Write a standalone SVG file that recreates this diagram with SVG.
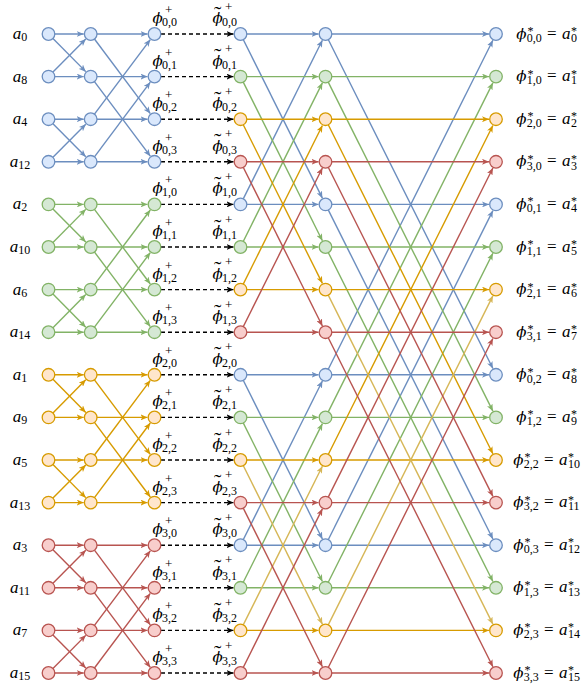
<svg xmlns="http://www.w3.org/2000/svg" width="582" height="692" viewBox="0 0 582 692">
<style>
.t{font-family:"Liberation Serif","Times New Roman","DejaVu Serif",serif;font-size:17px;fill:#000}
.i{font-style:italic}
.f{font-family:"DejaVu Serif",serif;font-style:italic;font-size:15px}
.w{font-size:22px;font-style:normal}
.s{font-size:12px;font-style:normal}
.p{font-size:13px;font-style:normal}
circle{stroke-width:1.3}
.cb{fill:#dae8fc;stroke:#6c8ebf}
.cg{fill:#d5e8d4;stroke:#82b366}
.co{fill:#ffe6cc;stroke:#d79b00}
.cr{fill:#f8cecc;stroke:#b85450}
#edges line{stroke-width:1.4;fill:none}
.eb{stroke:#6c8ebf;marker-end:url(#ab)}
.eg{stroke:#82b366;marker-end:url(#ag)}
.eo{stroke:#d79b00;marker-end:url(#ao)}
.ey{stroke:#d6b656;marker-end:url(#ay)}
.er{stroke:#b85450;marker-end:url(#ar)}
.ed{stroke:#000;stroke-dasharray:4 3;marker-end:url(#ak)}
</style>
<defs>
<marker id="ab" viewBox="0 0 7 6" refX="7" refY="3" markerWidth="7" markerHeight="6" markerUnits="userSpaceOnUse" orient="auto"><path d="M0,0 L7,3 L0,6 L1.8,3 Z" fill="#6c8ebf"/></marker>
<marker id="ag" viewBox="0 0 7 6" refX="7" refY="3" markerWidth="7" markerHeight="6" markerUnits="userSpaceOnUse" orient="auto"><path d="M0,0 L7,3 L0,6 L1.8,3 Z" fill="#82b366"/></marker>
<marker id="ao" viewBox="0 0 7 6" refX="7" refY="3" markerWidth="7" markerHeight="6" markerUnits="userSpaceOnUse" orient="auto"><path d="M0,0 L7,3 L0,6 L1.8,3 Z" fill="#d79b00"/></marker>
<marker id="ay" viewBox="0 0 7 6" refX="7" refY="3" markerWidth="7" markerHeight="6" markerUnits="userSpaceOnUse" orient="auto"><path d="M0,0 L7,3 L0,6 L1.8,3 Z" fill="#d6b656"/></marker>
<marker id="ar" viewBox="0 0 7 6" refX="7" refY="3" markerWidth="7" markerHeight="6" markerUnits="userSpaceOnUse" orient="auto"><path d="M0,0 L7,3 L0,6 L1.8,3 Z" fill="#b85450"/></marker>
<marker id="ak" viewBox="0 0 7 6" refX="7" refY="3" markerWidth="7" markerHeight="6" markerUnits="userSpaceOnUse" orient="auto"><path d="M0,0 L7,3 L0,6 L1.8,3 Z" fill="#000"/></marker>
</defs>
<rect width="582" height="692" fill="#fff"/>
<g id="edges">
<g class="eb">
<line x1="48.5" y1="34" x2="83.7" y2="34"/><line x1="48.5" y1="34" x2="85.77" y2="71.63"/>
<line x1="48.5" y1="76.6" x2="83.7" y2="76.6"/><line x1="48.5" y1="76.6" x2="85.77" y2="38.97"/>
<line x1="48.5" y1="119.2" x2="83.7" y2="119.2"/><line x1="48.5" y1="119.2" x2="85.77" y2="156.83"/>
<line x1="48.5" y1="161.8" x2="83.7" y2="161.8"/><line x1="48.5" y1="161.8" x2="85.77" y2="124.17"/>
<line x1="90.7" y1="34" x2="147.5" y2="34"/><line x1="90.7" y1="34" x2="150.3" y2="113.6"/>
<line x1="90.7" y1="76.6" x2="147.5" y2="76.6"/><line x1="90.7" y1="76.6" x2="150.3" y2="156.2"/>
<line x1="90.7" y1="119.2" x2="147.5" y2="119.2"/><line x1="90.7" y1="119.2" x2="150.3" y2="39.6"/>
<line x1="90.7" y1="161.8" x2="147.5" y2="161.8"/><line x1="90.7" y1="161.8" x2="150.3" y2="82.2"/>
</g>
<g class="eg">
<line x1="48.5" y1="204.4" x2="83.7" y2="204.4"/><line x1="48.5" y1="204.4" x2="85.77" y2="242.03"/>
<line x1="48.5" y1="247" x2="83.7" y2="247"/><line x1="48.5" y1="247" x2="85.77" y2="209.37"/>
<line x1="48.5" y1="289.6" x2="83.7" y2="289.6"/><line x1="48.5" y1="289.6" x2="85.77" y2="327.23"/>
<line x1="48.5" y1="332.2" x2="83.7" y2="332.2"/><line x1="48.5" y1="332.2" x2="85.77" y2="294.57"/>
<line x1="90.7" y1="204.4" x2="147.5" y2="204.4"/><line x1="90.7" y1="204.4" x2="150.3" y2="284"/>
<line x1="90.7" y1="247" x2="147.5" y2="247"/><line x1="90.7" y1="247" x2="150.3" y2="326.6"/>
<line x1="90.7" y1="289.6" x2="147.5" y2="289.6"/><line x1="90.7" y1="289.6" x2="150.3" y2="210"/>
<line x1="90.7" y1="332.2" x2="147.5" y2="332.2"/><line x1="90.7" y1="332.2" x2="150.3" y2="252.6"/>
</g>
<g class="eo">
<line x1="48.5" y1="374.8" x2="83.7" y2="374.8"/><line x1="48.5" y1="374.8" x2="85.77" y2="412.43"/>
<line x1="48.5" y1="417.4" x2="83.7" y2="417.4"/><line x1="48.5" y1="417.4" x2="85.77" y2="379.77"/>
<line x1="48.5" y1="460" x2="83.7" y2="460"/><line x1="48.5" y1="460" x2="85.77" y2="497.63"/>
<line x1="48.5" y1="502.6" x2="83.7" y2="502.6"/><line x1="48.5" y1="502.6" x2="85.77" y2="464.97"/>
<line x1="90.7" y1="374.8" x2="147.5" y2="374.8"/><line x1="90.7" y1="374.8" x2="150.3" y2="454.4"/>
<line x1="90.7" y1="417.4" x2="147.5" y2="417.4"/><line x1="90.7" y1="417.4" x2="150.3" y2="497"/>
<line x1="90.7" y1="460" x2="147.5" y2="460"/><line x1="90.7" y1="460" x2="150.3" y2="380.4"/>
<line x1="90.7" y1="502.6" x2="147.5" y2="502.6"/><line x1="90.7" y1="502.6" x2="150.3" y2="423"/>
</g>
<g class="er">
<line x1="48.5" y1="545.2" x2="83.7" y2="545.2"/><line x1="48.5" y1="545.2" x2="85.77" y2="582.83"/>
<line x1="48.5" y1="587.8" x2="83.7" y2="587.8"/><line x1="48.5" y1="587.8" x2="85.77" y2="550.17"/>
<line x1="48.5" y1="630.4" x2="83.7" y2="630.4"/><line x1="48.5" y1="630.4" x2="85.77" y2="668.03"/>
<line x1="48.5" y1="673" x2="83.7" y2="673"/><line x1="48.5" y1="673" x2="85.77" y2="635.37"/>
<line x1="90.7" y1="545.2" x2="147.5" y2="545.2"/><line x1="90.7" y1="545.2" x2="150.3" y2="624.8"/>
<line x1="90.7" y1="587.8" x2="147.5" y2="587.8"/><line x1="90.7" y1="587.8" x2="150.3" y2="667.4"/>
<line x1="90.7" y1="630.4" x2="147.5" y2="630.4"/><line x1="90.7" y1="630.4" x2="150.3" y2="550.8"/>
<line x1="90.7" y1="673" x2="147.5" y2="673"/><line x1="90.7" y1="673" x2="150.3" y2="593.4"/>
</g>
<g class="ed">
<line x1="161" y1="34" x2="233.5" y2="34"/><line x1="161" y1="76.6" x2="233.5" y2="76.6"/>
<line x1="161" y1="119.2" x2="233.5" y2="119.2"/><line x1="161" y1="161.8" x2="233.5" y2="161.8"/>
<line x1="161" y1="204.4" x2="233.5" y2="204.4"/><line x1="161" y1="247" x2="233.5" y2="247"/>
<line x1="161" y1="289.6" x2="233.5" y2="289.6"/><line x1="161" y1="332.2" x2="233.5" y2="332.2"/>
<line x1="161" y1="374.8" x2="233.5" y2="374.8"/><line x1="161" y1="417.4" x2="233.5" y2="417.4"/>
<line x1="161" y1="460" x2="233.5" y2="460"/><line x1="161" y1="502.6" x2="233.5" y2="502.6"/>
<line x1="161" y1="545.2" x2="233.5" y2="545.2"/><line x1="161" y1="587.8" x2="233.5" y2="587.8"/>
<line x1="161" y1="630.4" x2="233.5" y2="630.4"/><line x1="161" y1="673" x2="233.5" y2="673"/>
</g>
<g class="eb">
<line x1="240.5" y1="34" x2="318.5" y2="34"/><line x1="240.5" y1="34" x2="322.38" y2="198.14"/>
<line x1="240.5" y1="204.4" x2="318.5" y2="204.4"/><line x1="240.5" y1="204.4" x2="322.38" y2="40.26"/>
<line x1="240.5" y1="374.8" x2="318.5" y2="374.8"/><line x1="240.5" y1="374.8" x2="322.38" y2="538.94"/>
<line x1="240.5" y1="545.2" x2="318.5" y2="545.2"/><line x1="240.5" y1="545.2" x2="322.38" y2="381.06"/>
<line x1="325.5" y1="34" x2="489" y2="34"/><line x1="325.5" y1="34" x2="492.87" y2="368.54"/>
<line x1="325.5" y1="204.4" x2="489" y2="204.4"/><line x1="325.5" y1="204.4" x2="492.87" y2="538.94"/>
<line x1="325.5" y1="374.8" x2="489" y2="374.8"/><line x1="325.5" y1="374.8" x2="492.87" y2="40.26"/>
<line x1="325.5" y1="545.2" x2="489" y2="545.2"/><line x1="325.5" y1="545.2" x2="492.87" y2="210.66"/>
</g>
<g class="eg">
<line x1="240.5" y1="76.6" x2="318.5" y2="76.6"/><line x1="240.5" y1="76.6" x2="322.38" y2="240.74"/>
<line x1="240.5" y1="247" x2="318.5" y2="247"/><line x1="240.5" y1="247" x2="322.38" y2="82.86"/>
<line x1="240.5" y1="417.4" x2="318.5" y2="417.4"/><line x1="240.5" y1="417.4" x2="322.38" y2="581.54"/>
<line x1="240.5" y1="587.8" x2="318.5" y2="587.8"/><line x1="240.5" y1="587.8" x2="322.38" y2="423.66"/>
<line x1="325.5" y1="76.6" x2="489" y2="76.6"/><line x1="325.5" y1="76.6" x2="492.87" y2="411.14"/>
<line x1="325.5" y1="247" x2="489" y2="247"/><line x1="325.5" y1="247" x2="492.87" y2="581.54"/>
<line x1="325.5" y1="417.4" x2="489" y2="417.4"/><line x1="325.5" y1="417.4" x2="492.87" y2="82.86"/>
<line x1="325.5" y1="587.8" x2="489" y2="587.8"/><line x1="325.5" y1="587.8" x2="492.87" y2="253.26"/>
</g>
<g class="eo">
<line x1="240.5" y1="119.2" x2="318.5" y2="119.2"/><line x1="240.5" y1="119.2" x2="322.38" y2="283.34"/>
<line x1="240.5" y1="289.6" x2="318.5" y2="289.6"/><line x1="240.5" y1="289.6" x2="322.38" y2="125.46"/>
<line x1="240.5" y1="460" x2="318.5" y2="460"/>
<line x1="240.5" y1="630.4" x2="318.5" y2="630.4"/>
<line x1="325.5" y1="119.2" x2="489" y2="119.2"/><line x1="325.5" y1="119.2" x2="492.87" y2="453.74"/>
<line x1="325.5" y1="289.6" x2="489" y2="289.6"/>
<line x1="325.5" y1="460" x2="489" y2="460"/><line x1="325.5" y1="460" x2="492.87" y2="125.46"/>
<line x1="325.5" y1="630.4" x2="489" y2="630.4"/>
</g>
<g class="ey">
<line x1="240.5" y1="460" x2="322.38" y2="624.14"/>
<line x1="240.5" y1="630.4" x2="322.38" y2="466.26"/>
<line x1="325.5" y1="289.6" x2="492.87" y2="624.14"/>
<line x1="325.5" y1="630.4" x2="492.87" y2="295.86"/>
</g>
<g class="er">
<line x1="240.5" y1="161.8" x2="318.5" y2="161.8"/><line x1="240.5" y1="161.8" x2="322.38" y2="325.94"/>
<line x1="240.5" y1="332.2" x2="318.5" y2="332.2"/><line x1="240.5" y1="332.2" x2="322.38" y2="168.06"/>
<line x1="240.5" y1="502.6" x2="318.5" y2="502.6"/><line x1="240.5" y1="502.6" x2="322.38" y2="666.74"/>
<line x1="240.5" y1="673" x2="318.5" y2="673"/><line x1="240.5" y1="673" x2="322.38" y2="508.86"/>
<line x1="325.5" y1="161.8" x2="489" y2="161.8"/><line x1="325.5" y1="161.8" x2="492.87" y2="496.34"/>
<line x1="325.5" y1="332.2" x2="489" y2="332.2"/><line x1="325.5" y1="332.2" x2="492.87" y2="666.74"/>
<line x1="325.5" y1="502.6" x2="489" y2="502.6"/><line x1="325.5" y1="502.6" x2="492.87" y2="168.06"/>
<line x1="325.5" y1="673" x2="489" y2="673"/><line x1="325.5" y1="673" x2="492.87" y2="338.46"/>
</g>
</g>
<g id="nodes">
<!-- column 1: inputs -->
<g id="n1_0" transform="translate(48.5,34)"><circle r="6.3" class="cb"/><text class="t" x="-28.5" y="5" text-anchor="middle"><tspan class="i">a</tspan><tspan class="s" dy="2">0</tspan></text></g>
<g id="n1_1" transform="translate(48.5,76.6)"><circle r="6.3" class="cb"/><text class="t" x="-28.5" y="5" text-anchor="middle"><tspan class="i">a</tspan><tspan class="s" dy="2">8</tspan></text></g>
<g id="n1_2" transform="translate(48.5,119.2)"><circle r="6.3" class="cb"/><text class="t" x="-28.5" y="5" text-anchor="middle"><tspan class="i">a</tspan><tspan class="s" dy="2">4</tspan></text></g>
<g id="n1_3" transform="translate(48.5,161.8)"><circle r="6.3" class="cb"/><text class="t" x="-28.5" y="5" text-anchor="middle"><tspan class="i">a</tspan><tspan class="s" dy="2">12</tspan></text></g>
<g id="n1_4" transform="translate(48.5,204.4)"><circle r="6.3" class="cg"/><text class="t" x="-28.5" y="5" text-anchor="middle"><tspan class="i">a</tspan><tspan class="s" dy="2">2</tspan></text></g>
<g id="n1_5" transform="translate(48.5,247)"><circle r="6.3" class="cg"/><text class="t" x="-28.5" y="5" text-anchor="middle"><tspan class="i">a</tspan><tspan class="s" dy="2">10</tspan></text></g>
<g id="n1_6" transform="translate(48.5,289.6)"><circle r="6.3" class="cg"/><text class="t" x="-28.5" y="5" text-anchor="middle"><tspan class="i">a</tspan><tspan class="s" dy="2">6</tspan></text></g>
<g id="n1_7" transform="translate(48.5,332.2)"><circle r="6.3" class="cg"/><text class="t" x="-28.5" y="5" text-anchor="middle"><tspan class="i">a</tspan><tspan class="s" dy="2">14</tspan></text></g>
<g id="n1_8" transform="translate(48.5,374.8)"><circle r="6.3" class="co"/><text class="t" x="-28.5" y="5" text-anchor="middle"><tspan class="i">a</tspan><tspan class="s" dy="2">1</tspan></text></g>
<g id="n1_9" transform="translate(48.5,417.4)"><circle r="6.3" class="co"/><text class="t" x="-28.5" y="5" text-anchor="middle"><tspan class="i">a</tspan><tspan class="s" dy="2">9</tspan></text></g>
<g id="n1_10" transform="translate(48.5,460)"><circle r="6.3" class="co"/><text class="t" x="-28.5" y="5" text-anchor="middle"><tspan class="i">a</tspan><tspan class="s" dy="2">5</tspan></text></g>
<g id="n1_11" transform="translate(48.5,502.6)"><circle r="6.3" class="co"/><text class="t" x="-28.5" y="5" text-anchor="middle"><tspan class="i">a</tspan><tspan class="s" dy="2">13</tspan></text></g>
<g id="n1_12" transform="translate(48.5,545.2)"><circle r="6.3" class="cr"/><text class="t" x="-28.5" y="5" text-anchor="middle"><tspan class="i">a</tspan><tspan class="s" dy="2">3</tspan></text></g>
<g id="n1_13" transform="translate(48.5,587.8)"><circle r="6.3" class="cr"/><text class="t" x="-28.5" y="5" text-anchor="middle"><tspan class="i">a</tspan><tspan class="s" dy="2">11</tspan></text></g>
<g id="n1_14" transform="translate(48.5,630.4)"><circle r="6.3" class="cr"/><text class="t" x="-28.5" y="5" text-anchor="middle"><tspan class="i">a</tspan><tspan class="s" dy="2">7</tspan></text></g>
<g id="n1_15" transform="translate(48.5,673)"><circle r="6.3" class="cr"/><text class="t" x="-28.5" y="5" text-anchor="middle"><tspan class="i">a</tspan><tspan class="s" dy="2">15</tspan></text></g>
<!-- column 2 -->
<g id="n2_0" transform="translate(90.7,34)"><circle r="6.3" class="cb"/></g>
<g id="n2_1" transform="translate(90.7,76.6)"><circle r="6.3" class="cb"/></g>
<g id="n2_2" transform="translate(90.7,119.2)"><circle r="6.3" class="cb"/></g>
<g id="n2_3" transform="translate(90.7,161.8)"><circle r="6.3" class="cb"/></g>
<g id="n2_4" transform="translate(90.7,204.4)"><circle r="6.3" class="cg"/></g>
<g id="n2_5" transform="translate(90.7,247)"><circle r="6.3" class="cg"/></g>
<g id="n2_6" transform="translate(90.7,289.6)"><circle r="6.3" class="cg"/></g>
<g id="n2_7" transform="translate(90.7,332.2)"><circle r="6.3" class="cg"/></g>
<g id="n2_8" transform="translate(90.7,374.8)"><circle r="6.3" class="co"/></g>
<g id="n2_9" transform="translate(90.7,417.4)"><circle r="6.3" class="co"/></g>
<g id="n2_10" transform="translate(90.7,460)"><circle r="6.3" class="co"/></g>
<g id="n2_11" transform="translate(90.7,502.6)"><circle r="6.3" class="co"/></g>
<g id="n2_12" transform="translate(90.7,545.2)"><circle r="6.3" class="cr"/></g>
<g id="n2_13" transform="translate(90.7,587.8)"><circle r="6.3" class="cr"/></g>
<g id="n2_14" transform="translate(90.7,630.4)"><circle r="6.3" class="cr"/></g>
<g id="n2_15" transform="translate(90.7,673)"><circle r="6.3" class="cr"/></g>
<!-- column 3 -->
<g id="n3_0" transform="translate(154.5,34)"><circle r="6.3" class="cb"/><text class="t"><tspan class="f" x="-2" y="-11">ϕ</tspan><tspan class="s" x="7.5" y="-8">0,0</tspan><tspan class="p" x="10.5" y="-20">+</tspan></text></g>
<g id="n3_1" transform="translate(154.5,76.6)"><circle r="6.3" class="cb"/><text class="t"><tspan class="f" x="-2" y="-11">ϕ</tspan><tspan class="s" x="7.5" y="-8">0,1</tspan><tspan class="p" x="10.5" y="-20">+</tspan></text></g>
<g id="n3_2" transform="translate(154.5,119.2)"><circle r="6.3" class="cb"/><text class="t"><tspan class="f" x="-2" y="-11">ϕ</tspan><tspan class="s" x="7.5" y="-8">0,2</tspan><tspan class="p" x="10.5" y="-20">+</tspan></text></g>
<g id="n3_3" transform="translate(154.5,161.8)"><circle r="6.3" class="cb"/><text class="t"><tspan class="f" x="-2" y="-11">ϕ</tspan><tspan class="s" x="7.5" y="-8">0,3</tspan><tspan class="p" x="10.5" y="-20">+</tspan></text></g>
<g id="n3_4" transform="translate(154.5,204.4)"><circle r="6.3" class="cg"/><text class="t"><tspan class="f" x="-2" y="-11">ϕ</tspan><tspan class="s" x="7.5" y="-8">1,0</tspan><tspan class="p" x="10.5" y="-20">+</tspan></text></g>
<g id="n3_5" transform="translate(154.5,247)"><circle r="6.3" class="cg"/><text class="t"><tspan class="f" x="-2" y="-11">ϕ</tspan><tspan class="s" x="7.5" y="-8">1,1</tspan><tspan class="p" x="10.5" y="-20">+</tspan></text></g>
<g id="n3_6" transform="translate(154.5,289.6)"><circle r="6.3" class="cg"/><text class="t"><tspan class="f" x="-2" y="-11">ϕ</tspan><tspan class="s" x="7.5" y="-8">1,2</tspan><tspan class="p" x="10.5" y="-20">+</tspan></text></g>
<g id="n3_7" transform="translate(154.5,332.2)"><circle r="6.3" class="cg"/><text class="t"><tspan class="f" x="-2" y="-11">ϕ</tspan><tspan class="s" x="7.5" y="-8">1,3</tspan><tspan class="p" x="10.5" y="-20">+</tspan></text></g>
<g id="n3_8" transform="translate(154.5,374.8)"><circle r="6.3" class="co"/><text class="t"><tspan class="f" x="-2" y="-11">ϕ</tspan><tspan class="s" x="7.5" y="-8">2,0</tspan><tspan class="p" x="10.5" y="-20">+</tspan></text></g>
<g id="n3_9" transform="translate(154.5,417.4)"><circle r="6.3" class="co"/><text class="t"><tspan class="f" x="-2" y="-11">ϕ</tspan><tspan class="s" x="7.5" y="-8">2,1</tspan><tspan class="p" x="10.5" y="-20">+</tspan></text></g>
<g id="n3_10" transform="translate(154.5,460)"><circle r="6.3" class="co"/><text class="t"><tspan class="f" x="-2" y="-11">ϕ</tspan><tspan class="s" x="7.5" y="-8">2,2</tspan><tspan class="p" x="10.5" y="-20">+</tspan></text></g>
<g id="n3_11" transform="translate(154.5,502.6)"><circle r="6.3" class="co"/><text class="t"><tspan class="f" x="-2" y="-11">ϕ</tspan><tspan class="s" x="7.5" y="-8">2,3</tspan><tspan class="p" x="10.5" y="-20">+</tspan></text></g>
<g id="n3_12" transform="translate(154.5,545.2)"><circle r="6.3" class="cr"/><text class="t"><tspan class="f" x="-2" y="-11">ϕ</tspan><tspan class="s" x="7.5" y="-8">3,0</tspan><tspan class="p" x="10.5" y="-20">+</tspan></text></g>
<g id="n3_13" transform="translate(154.5,587.8)"><circle r="6.3" class="cr"/><text class="t"><tspan class="f" x="-2" y="-11">ϕ</tspan><tspan class="s" x="7.5" y="-8">3,1</tspan><tspan class="p" x="10.5" y="-20">+</tspan></text></g>
<g id="n3_14" transform="translate(154.5,630.4)"><circle r="6.3" class="cr"/><text class="t"><tspan class="f" x="-2" y="-11">ϕ</tspan><tspan class="s" x="7.5" y="-8">3,2</tspan><tspan class="p" x="10.5" y="-20">+</tspan></text></g>
<g id="n3_15" transform="translate(154.5,673)"><circle r="6.3" class="cr"/><text class="t"><tspan class="f" x="-2" y="-11">ϕ</tspan><tspan class="s" x="7.5" y="-8">3,3</tspan><tspan class="p" x="10.5" y="-20">+</tspan></text></g>
<!-- column 4 -->
<g id="n4_0" transform="translate(240.5,34)"><circle r="6.3" class="cb"/><text class="t"><tspan class="f" x="-28" y="-11">ϕ</tspan><tspan class="w" x="-26.5" y="-13.5">˜</tspan><tspan class="s" x="-18.5" y="-8">0,0</tspan><tspan class="p" x="-15.5" y="-23.5">+</tspan></text></g>
<g id="n4_1" transform="translate(240.5,76.6)"><circle r="6.3" class="cg"/><text class="t"><tspan class="f" x="-28" y="-11">ϕ</tspan><tspan class="w" x="-26.5" y="-13.5">˜</tspan><tspan class="s" x="-18.5" y="-8">0,1</tspan><tspan class="p" x="-15.5" y="-23.5">+</tspan></text></g>
<g id="n4_2" transform="translate(240.5,119.2)"><circle r="6.3" class="co"/><text class="t"><tspan class="f" x="-28" y="-11">ϕ</tspan><tspan class="w" x="-26.5" y="-13.5">˜</tspan><tspan class="s" x="-18.5" y="-8">0,2</tspan><tspan class="p" x="-15.5" y="-23.5">+</tspan></text></g>
<g id="n4_3" transform="translate(240.5,161.8)"><circle r="6.3" class="cr"/><text class="t"><tspan class="f" x="-28" y="-11">ϕ</tspan><tspan class="w" x="-26.5" y="-13.5">˜</tspan><tspan class="s" x="-18.5" y="-8">0,3</tspan><tspan class="p" x="-15.5" y="-23.5">+</tspan></text></g>
<g id="n4_4" transform="translate(240.5,204.4)"><circle r="6.3" class="cb"/><text class="t"><tspan class="f" x="-28" y="-11">ϕ</tspan><tspan class="w" x="-26.5" y="-13.5">˜</tspan><tspan class="s" x="-18.5" y="-8">1,0</tspan><tspan class="p" x="-15.5" y="-23.5">+</tspan></text></g>
<g id="n4_5" transform="translate(240.5,247)"><circle r="6.3" class="cg"/><text class="t"><tspan class="f" x="-28" y="-11">ϕ</tspan><tspan class="w" x="-26.5" y="-13.5">˜</tspan><tspan class="s" x="-18.5" y="-8">1,1</tspan><tspan class="p" x="-15.5" y="-23.5">+</tspan></text></g>
<g id="n4_6" transform="translate(240.5,289.6)"><circle r="6.3" class="co"/><text class="t"><tspan class="f" x="-28" y="-11">ϕ</tspan><tspan class="w" x="-26.5" y="-13.5">˜</tspan><tspan class="s" x="-18.5" y="-8">1,2</tspan><tspan class="p" x="-15.5" y="-23.5">+</tspan></text></g>
<g id="n4_7" transform="translate(240.5,332.2)"><circle r="6.3" class="cr"/><text class="t"><tspan class="f" x="-28" y="-11">ϕ</tspan><tspan class="w" x="-26.5" y="-13.5">˜</tspan><tspan class="s" x="-18.5" y="-8">1,3</tspan><tspan class="p" x="-15.5" y="-23.5">+</tspan></text></g>
<g id="n4_8" transform="translate(240.5,374.8)"><circle r="6.3" class="cb"/><text class="t"><tspan class="f" x="-28" y="-11">ϕ</tspan><tspan class="w" x="-26.5" y="-13.5">˜</tspan><tspan class="s" x="-18.5" y="-8">2,0</tspan><tspan class="p" x="-15.5" y="-23.5">+</tspan></text></g>
<g id="n4_9" transform="translate(240.5,417.4)"><circle r="6.3" class="cg"/><text class="t"><tspan class="f" x="-28" y="-11">ϕ</tspan><tspan class="w" x="-26.5" y="-13.5">˜</tspan><tspan class="s" x="-18.5" y="-8">2,1</tspan><tspan class="p" x="-15.5" y="-23.5">+</tspan></text></g>
<g id="n4_10" transform="translate(240.5,460)"><circle r="6.3" class="co"/><text class="t"><tspan class="f" x="-28" y="-11">ϕ</tspan><tspan class="w" x="-26.5" y="-13.5">˜</tspan><tspan class="s" x="-18.5" y="-8">2,2</tspan><tspan class="p" x="-15.5" y="-23.5">+</tspan></text></g>
<g id="n4_11" transform="translate(240.5,502.6)"><circle r="6.3" class="cr"/><text class="t"><tspan class="f" x="-28" y="-11">ϕ</tspan><tspan class="w" x="-26.5" y="-13.5">˜</tspan><tspan class="s" x="-18.5" y="-8">2,3</tspan><tspan class="p" x="-15.5" y="-23.5">+</tspan></text></g>
<g id="n4_12" transform="translate(240.5,545.2)"><circle r="6.3" class="cb"/><text class="t"><tspan class="f" x="-28" y="-11">ϕ</tspan><tspan class="w" x="-26.5" y="-13.5">˜</tspan><tspan class="s" x="-18.5" y="-8">3,0</tspan><tspan class="p" x="-15.5" y="-23.5">+</tspan></text></g>
<g id="n4_13" transform="translate(240.5,587.8)"><circle r="6.3" class="cg"/><text class="t"><tspan class="f" x="-28" y="-11">ϕ</tspan><tspan class="w" x="-26.5" y="-13.5">˜</tspan><tspan class="s" x="-18.5" y="-8">3,1</tspan><tspan class="p" x="-15.5" y="-23.5">+</tspan></text></g>
<g id="n4_14" transform="translate(240.5,630.4)"><circle r="6.3" class="co"/><text class="t"><tspan class="f" x="-28" y="-11">ϕ</tspan><tspan class="w" x="-26.5" y="-13.5">˜</tspan><tspan class="s" x="-18.5" y="-8">3,2</tspan><tspan class="p" x="-15.5" y="-23.5">+</tspan></text></g>
<g id="n4_15" transform="translate(240.5,673)"><circle r="6.3" class="cr"/><text class="t"><tspan class="f" x="-28" y="-11">ϕ</tspan><tspan class="w" x="-26.5" y="-13.5">˜</tspan><tspan class="s" x="-18.5" y="-8">3,3</tspan><tspan class="p" x="-15.5" y="-23.5">+</tspan></text></g>
<!-- column 5 -->
<g id="n5_0" transform="translate(325.5,34)"><circle r="6.3" class="cb"/></g>
<g id="n5_1" transform="translate(325.5,76.6)"><circle r="6.3" class="cg"/></g>
<g id="n5_2" transform="translate(325.5,119.2)"><circle r="6.3" class="co"/></g>
<g id="n5_3" transform="translate(325.5,161.8)"><circle r="6.3" class="cr"/></g>
<g id="n5_4" transform="translate(325.5,204.4)"><circle r="6.3" class="cb"/></g>
<g id="n5_5" transform="translate(325.5,247)"><circle r="6.3" class="cg"/></g>
<g id="n5_6" transform="translate(325.5,289.6)"><circle r="6.3" class="co"/></g>
<g id="n5_7" transform="translate(325.5,332.2)"><circle r="6.3" class="cr"/></g>
<g id="n5_8" transform="translate(325.5,374.8)"><circle r="6.3" class="cb"/></g>
<g id="n5_9" transform="translate(325.5,417.4)"><circle r="6.3" class="cg"/></g>
<g id="n5_10" transform="translate(325.5,460)"><circle r="6.3" class="co"/></g>
<g id="n5_11" transform="translate(325.5,502.6)"><circle r="6.3" class="cr"/></g>
<g id="n5_12" transform="translate(325.5,545.2)"><circle r="6.3" class="cb"/></g>
<g id="n5_13" transform="translate(325.5,587.8)"><circle r="6.3" class="cg"/></g>
<g id="n5_14" transform="translate(325.5,630.4)"><circle r="6.3" class="co"/></g>
<g id="n5_15" transform="translate(325.5,673)"><circle r="6.3" class="cr"/></g>
<!-- column 6: outputs -->
<g id="n6_0" transform="translate(496,34)"><circle r="6.3" class="cb"/><text class="t"><tspan class="f" x="20.2" y="4.5">ϕ</tspan><tspan class="s" x="31.5" y="1">*</tspan><tspan class="s" x="30.7" y="7.7">0,0</tspan><tspan x="51" y="4.5">=</tspan><tspan class="i" x="66" y="4.5">a</tspan><tspan class="s" x="75" y="1">*</tspan><tspan class="s" x="75" y="7.7">0</tspan></text></g>
<g id="n6_1" transform="translate(496,76.6)"><circle r="6.3" class="cg"/><text class="t"><tspan class="f" x="20.2" y="4.5">ϕ</tspan><tspan class="s" x="31.5" y="1">*</tspan><tspan class="s" x="30.7" y="7.7">1,0</tspan><tspan x="51" y="4.5">=</tspan><tspan class="i" x="66" y="4.5">a</tspan><tspan class="s" x="75" y="1">*</tspan><tspan class="s" x="75" y="7.7">1</tspan></text></g>
<g id="n6_2" transform="translate(496,119.2)"><circle r="6.3" class="co"/><text class="t"><tspan class="f" x="20.2" y="4.5">ϕ</tspan><tspan class="s" x="31.5" y="1">*</tspan><tspan class="s" x="30.7" y="7.7">2,0</tspan><tspan x="51" y="4.5">=</tspan><tspan class="i" x="66" y="4.5">a</tspan><tspan class="s" x="75" y="1">*</tspan><tspan class="s" x="75" y="7.7">2</tspan></text></g>
<g id="n6_3" transform="translate(496,161.8)"><circle r="6.3" class="cr"/><text class="t"><tspan class="f" x="20.2" y="4.5">ϕ</tspan><tspan class="s" x="31.5" y="1">*</tspan><tspan class="s" x="30.7" y="7.7">3,0</tspan><tspan x="51" y="4.5">=</tspan><tspan class="i" x="66" y="4.5">a</tspan><tspan class="s" x="75" y="1">*</tspan><tspan class="s" x="75" y="7.7">3</tspan></text></g>
<g id="n6_4" transform="translate(496,204.4)"><circle r="6.3" class="cb"/><text class="t"><tspan class="f" x="20.2" y="4.5">ϕ</tspan><tspan class="s" x="31.5" y="1">*</tspan><tspan class="s" x="30.7" y="7.7">0,1</tspan><tspan x="51" y="4.5">=</tspan><tspan class="i" x="66" y="4.5">a</tspan><tspan class="s" x="75" y="1">*</tspan><tspan class="s" x="75" y="7.7">4</tspan></text></g>
<g id="n6_5" transform="translate(496,247)"><circle r="6.3" class="cg"/><text class="t"><tspan class="f" x="20.2" y="4.5">ϕ</tspan><tspan class="s" x="31.5" y="1">*</tspan><tspan class="s" x="30.7" y="7.7">1,1</tspan><tspan x="51" y="4.5">=</tspan><tspan class="i" x="66" y="4.5">a</tspan><tspan class="s" x="75" y="1">*</tspan><tspan class="s" x="75" y="7.7">5</tspan></text></g>
<g id="n6_6" transform="translate(496,289.6)"><circle r="6.3" class="co"/><text class="t"><tspan class="f" x="20.2" y="4.5">ϕ</tspan><tspan class="s" x="31.5" y="1">*</tspan><tspan class="s" x="30.7" y="7.7">2,1</tspan><tspan x="51" y="4.5">=</tspan><tspan class="i" x="66" y="4.5">a</tspan><tspan class="s" x="75" y="1">*</tspan><tspan class="s" x="75" y="7.7">6</tspan></text></g>
<g id="n6_7" transform="translate(496,332.2)"><circle r="6.3" class="cr"/><text class="t"><tspan class="f" x="20.2" y="4.5">ϕ</tspan><tspan class="s" x="31.5" y="1">*</tspan><tspan class="s" x="30.7" y="7.7">3,1</tspan><tspan x="51" y="4.5">=</tspan><tspan class="i" x="66" y="4.5">a</tspan><tspan class="s" x="75" y="1">*</tspan><tspan class="s" x="75" y="7.7">7</tspan></text></g>
<g id="n6_8" transform="translate(496,374.8)"><circle r="6.3" class="cb"/><text class="t"><tspan class="f" x="20.2" y="4.5">ϕ</tspan><tspan class="s" x="31.5" y="1">*</tspan><tspan class="s" x="30.7" y="7.7">0,2</tspan><tspan x="51" y="4.5">=</tspan><tspan class="i" x="66" y="4.5">a</tspan><tspan class="s" x="75" y="1">*</tspan><tspan class="s" x="75" y="7.7">8</tspan></text></g>
<g id="n6_9" transform="translate(496,417.4)"><circle r="6.3" class="cg"/><text class="t"><tspan class="f" x="20.2" y="4.5">ϕ</tspan><tspan class="s" x="31.5" y="1">*</tspan><tspan class="s" x="30.7" y="7.7">1,2</tspan><tspan x="51" y="4.5">=</tspan><tspan class="i" x="66" y="4.5">a</tspan><tspan class="s" x="75" y="1">*</tspan><tspan class="s" x="75" y="7.7">9</tspan></text></g>
<g id="n6_10" transform="translate(496,460)"><circle r="6.3" class="co"/><text class="t"><tspan class="f" x="17.2" y="4.5">ϕ</tspan><tspan class="s" x="28.5" y="1">*</tspan><tspan class="s" x="27.7" y="7.7">2,2</tspan><tspan x="48" y="4.5">=</tspan><tspan class="i" x="63" y="4.5">a</tspan><tspan class="s" x="72" y="1">*</tspan><tspan class="s" x="72" y="7.7">10</tspan></text></g>
<g id="n6_11" transform="translate(496,502.6)"><circle r="6.3" class="cr"/><text class="t"><tspan class="f" x="17.2" y="4.5">ϕ</tspan><tspan class="s" x="28.5" y="1">*</tspan><tspan class="s" x="27.7" y="7.7">3,2</tspan><tspan x="48" y="4.5">=</tspan><tspan class="i" x="63" y="4.5">a</tspan><tspan class="s" x="72" y="1">*</tspan><tspan class="s" x="72" y="7.7">11</tspan></text></g>
<g id="n6_12" transform="translate(496,545.2)"><circle r="6.3" class="cb"/><text class="t"><tspan class="f" x="17.2" y="4.5">ϕ</tspan><tspan class="s" x="28.5" y="1">*</tspan><tspan class="s" x="27.7" y="7.7">0,3</tspan><tspan x="48" y="4.5">=</tspan><tspan class="i" x="63" y="4.5">a</tspan><tspan class="s" x="72" y="1">*</tspan><tspan class="s" x="72" y="7.7">12</tspan></text></g>
<g id="n6_13" transform="translate(496,587.8)"><circle r="6.3" class="cg"/><text class="t"><tspan class="f" x="17.2" y="4.5">ϕ</tspan><tspan class="s" x="28.5" y="1">*</tspan><tspan class="s" x="27.7" y="7.7">1,3</tspan><tspan x="48" y="4.5">=</tspan><tspan class="i" x="63" y="4.5">a</tspan><tspan class="s" x="72" y="1">*</tspan><tspan class="s" x="72" y="7.7">13</tspan></text></g>
<g id="n6_14" transform="translate(496,630.4)"><circle r="6.3" class="co"/><text class="t"><tspan class="f" x="17.2" y="4.5">ϕ</tspan><tspan class="s" x="28.5" y="1">*</tspan><tspan class="s" x="27.7" y="7.7">2,3</tspan><tspan x="48" y="4.5">=</tspan><tspan class="i" x="63" y="4.5">a</tspan><tspan class="s" x="72" y="1">*</tspan><tspan class="s" x="72" y="7.7">14</tspan></text></g>
<g id="n6_15" transform="translate(496,673)"><circle r="6.3" class="cr"/><text class="t"><tspan class="f" x="17.2" y="4.5">ϕ</tspan><tspan class="s" x="28.5" y="1">*</tspan><tspan class="s" x="27.7" y="7.7">3,3</tspan><tspan x="48" y="4.5">=</tspan><tspan class="i" x="63" y="4.5">a</tspan><tspan class="s" x="72" y="1">*</tspan><tspan class="s" x="72" y="7.7">15</tspan></text></g>
</g>
</svg>
